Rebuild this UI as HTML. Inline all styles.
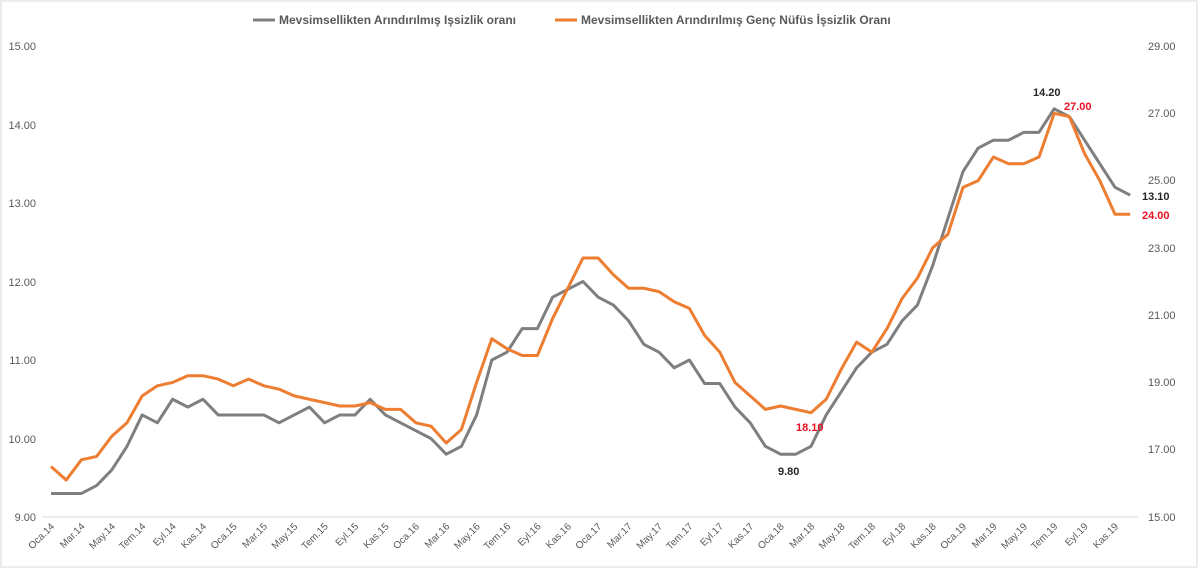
<!DOCTYPE html>
<html><head><meta charset="utf-8"><style>
body{margin:0;background:#fff}
svg{display:block;font-family:"Liberation Sans",sans-serif}
</style></head><body>
<svg id="c" width="1200" height="572" viewBox="0 0 1200 572">
<rect x="1" y="1" width="1196" height="566" fill="#fff" stroke="#d9d9d9"/>
<line x1="42" y1="517" x2="1138" y2="517" stroke="#d9d9d9"/>
<g font-size="11" fill="#595959" text-anchor="end">
<text x="36" y="50">15.00</text><text x="36" y="129">14.00</text><text x="36" y="207">13.00</text>
<text x="36" y="286">12.00</text><text x="36" y="364">11.00</text><text x="36" y="443">10.00</text><text x="36" y="521">9.00</text>
</g>
<g font-size="11" fill="#595959" text-anchor="start">
<text x="1148" y="50">29.00</text><text x="1148" y="117">27.00</text><text x="1148" y="184">25.00</text>
<text x="1148" y="252">23.00</text><text x="1148" y="319">21.00</text><text x="1148" y="386">19.00</text>
<text x="1148" y="453">17.00</text><text x="1148" y="521">15.00</text>
</g>
<g font-size="12" font-weight="bold" fill="#595959">
<line x1="253" y1="20" x2="275" y2="20" stroke="#7f7f7f" stroke-width="3"/>
<text x="279" y="24">Mevsimsellikten Arındırılmış Işsizlik oranı</text>
<line x1="555" y1="20" x2="577" y2="20" stroke="#ed7d31" stroke-width="3"/>
<text x="581" y="24">Mevsimsellikten Arındırılmış Genç Nüfüs İşsizlik Oranı</text>
</g>
<g id="xl" font-size="10" fill="#595959" text-anchor="end"></g>
<polyline id="g" fill="none" stroke="#7f7f7f" stroke-width="3" stroke-linejoin="round"/>
<polyline id="o" fill="none" stroke="#ed7d31" stroke-width="3" stroke-linejoin="round"/>
<g font-size="11" font-weight="bold">
<text x="1033" y="96" fill="#262626">14.20</text>
<text x="1064" y="110" fill="#e81123">27.00</text>
<text x="1142" y="200" fill="#262626">13.10</text>
<text x="1142" y="219" fill="#e81123">24.00</text>
<text x="778" y="475" fill="#262626">9.80</text>
<text x="796" y="431" fill="#e81123">18.10</text>
</g>
</svg>
<script>
var G=[9.3,9.3,9.3,9.4,9.6,9.9,10.3,10.2,10.5,10.4,10.5,10.3,10.3,10.3,10.3,10.2,10.3,10.4,10.2,10.3,10.3,10.5,10.3,10.2,10.1,10.0,9.8,9.9,10.3,11.0,11.1,11.4,11.4,11.8,11.9,12.0,11.8,11.7,11.5,11.2,11.1,10.9,11.0,10.7,10.7,10.4,10.2,9.9,9.8,9.8,9.9,10.3,10.6,10.9,11.1,11.2,11.5,11.7,12.2,12.8,13.4,13.7,13.8,13.8,13.9,13.9,14.2,14.1,13.8,13.5,13.2,13.1];
var O=[16.5,16.1,16.7,16.8,17.4,17.8,18.6,18.9,19.0,19.2,19.2,19.1,18.9,19.1,18.9,18.8,18.6,18.5,18.4,18.3,18.3,18.4,18.2,18.2,17.8,17.7,17.2,17.6,19.0,20.3,20.0,19.8,19.8,20.9,21.8,22.7,22.7,22.2,21.8,21.8,21.7,21.4,21.2,20.4,19.9,19.0,18.6,18.2,18.3,18.2,18.1,18.5,19.4,20.2,19.9,20.6,21.5,22.1,23.0,23.4,24.8,25.0,25.7,25.5,25.5,25.7,27.0,26.9,25.8,25.0,24.0,24.0];
function X(i){return 51+i*15.2}
document.getElementById('g').setAttribute('points',G.map(function(v,i){return X(i)+','+(517-(v-9)*78.5)}).join(' '));
document.getElementById('o').setAttribute('points',O.map(function(v,i){return X(i)+','+(517-(v-15)*33.64)}).join(' '));
var m=['Oca','Mar','May','Tem','Eyl','Kas'],s='';
for(var y=14;y<=19;y++)for(var k=0;k<6;k++){var i=(y-14)*12+k*2,x=X(i)+4;
s+='<text transform="translate('+x+',527) rotate(-45)">'+m[k]+'.'+y+'</text>';}
document.getElementById('xl').innerHTML=s;
</script>
</body></html>
